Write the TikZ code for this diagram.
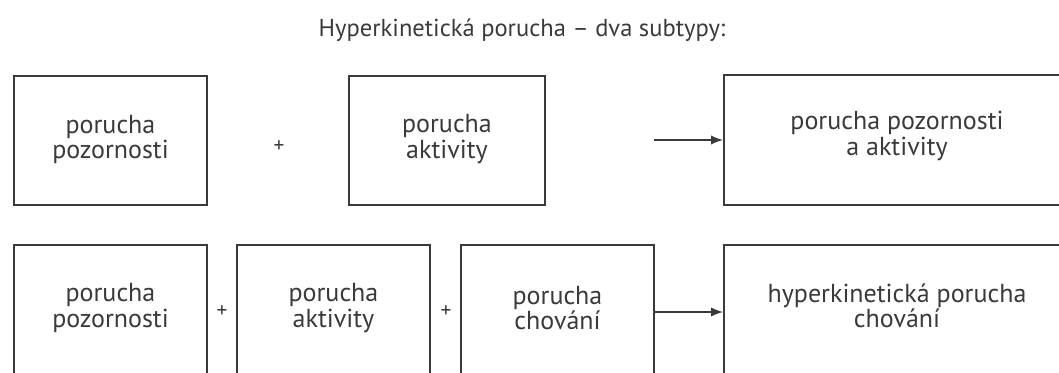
\documentclass[tikz,border=0pt]{standalone}
\usepackage{fontspec}
\setmainfont{PT Sans}
\usetikzlibrary{arrows.meta}
\definecolor{ink}{HTML}{3A3A3A}
\tikzset{
  box/.style={draw=ink, line width=1.4pt, minimum width=#1, inner sep=0pt},
  txt/.style={text=ink, align=center, font=\fontsize{19.5}{19}\selectfont, inner sep=0pt},
  conn/.style={draw=ink, line width=1.2pt, -{Latex[length=9pt,width=7pt]}},
  plus/.style={text=ink, font=\fontsize{16}{16}\selectfont, inner sep=0pt}
}
\begin{document}
\begin{tikzpicture}[x=0.75pt,y=-0.75pt]
\useasboundingbox (0,0) rectangle (1059,372);
\clip (0,0) rectangle (1059,372);
\node[txt, font=\fontsize{18.4}{18}\selectfont] (title) at (522,30) {Hyperkinetická porucha – dva subtypy:};
% row 1
\node[box=144.75pt, minimum height=96.75pt] (a1) at (110.5,140.5) {};
\node[box=147pt, minimum height=96.75pt] (a2) at (447,140.5) {};
\node[box=259.5pt, minimum height=97.5pt] (a3) at (897,140) {};
\node[txt] (ta1) at ([yshift=1pt]a1.center) {porucha\\pozornosti};
\node[txt] (ta2) at ([yshift=1pt]a2.center) {porucha\\aktivity};
\node[txt] (ta3) at ([yshift=3pt]a3.center) {porucha pozornosti\\a aktivity};
\node[plus] (p1) at (279,147) {+};
\coordinate (s1) at (654,140);
\draw[conn] (s1) -- (s1 -| a3.west);
% row 2
\node[box=144.75pt, minimum height=112.5pt] (b1) at (110.5,320) {};
\node[box=144.75pt, minimum height=112.5pt] (b2) at (333.5,320) {};
\node[box=144.75pt, minimum height=112.5pt] (b3) at (557.5,320) {};
\node[box=259.5pt, minimum height=112.5pt] (b4) at (897,320) {};
\node[txt] (tb1) at (110.5,308) {porucha\\pozornosti};
\node[txt] (tb2) at (333.5,308) {porucha\\aktivity};
\node[txt] (tb3) at (557.5,308) {porucha\\chování};
\node[txt] (tb4) at (897,306) {hyperkinetická porucha\\chování};
\node[plus] (q1) at (222,312) {+};
\node[plus] (q2) at (446,312) {+};
\coordinate (r2) at (0,312);
\draw[conn] (b3.east |- r2) -- (b4.west |- r2);
\end{tikzpicture}
\end{document}
